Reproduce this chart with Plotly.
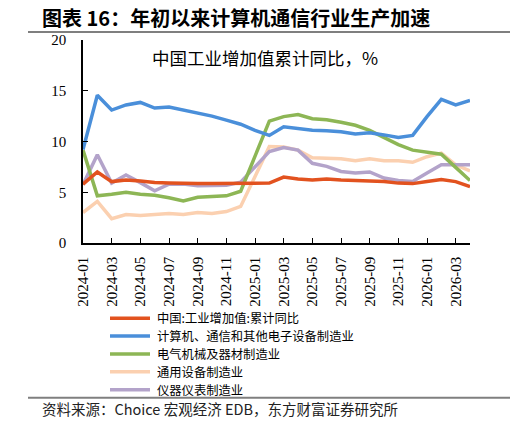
import plotly.graph_objects as go

months = [f"{y}-{m:02d}" for y in (2024, 2025, 2026) for m in range(1, 13)][:28]
tick_labels = months[0:28:2]

names = ["中国:工业增加值:累计同比", "计算机、通信和其他电子设备制造业", "电气机械及器材制造业",
         "通用设备制造业", "仪器仪表制造业"]
colors = ["#E2521F", "#4A8FDA", "#8DB655", "#FBD0B0", "#B3A3CA"]

industry = [5.8, 7.0, 6.05, 6.2, 6.1, 5.95, 5.9, 5.85, 5.85, 5.85, 5.85, 5.9, 5.9, 5.9,
            6.5, 6.3, 6.2, 6.3, 6.2, 6.15, 6.1, 6.05, 5.9, 5.85, 6.05, 6.25, 6.05, 5.55]
computer = [9.2, 14.55, 13.1, 13.6, 13.85, 13.3, 13.4, 13.1, 12.75, 12.5, 12.1, 11.7, 11.1, 10.6,
            11.45, 11.3, 11.1, 11.05, 10.95, 10.75, 10.85, 10.65, 10.4, 10.6, 12.45, 14.15, 13.6, 14.05]
electric = [9.15, 4.65, 4.8, 5.0, 4.8, 4.7, 4.45, 4.15, 4.5, 4.6, 4.65, 5.1, 8.6, 12.0,
            12.45, 12.65, 12.25, 12.15, 11.9, 11.6, 11.1, 10.4, 9.7, 9.15, 8.95, 8.75, 7.45, 6.15]
general = [3.0, 4.1, 2.4, 2.8, 2.7, 2.8, 2.9, 2.8, 3.0, 2.9, 3.1, 3.6, 6.6, 9.5,
           9.45, 9.15, 8.4, 8.35, 8.3, 8.1, 8.3, 8.1, 8.1, 7.95, 8.5, 8.85, 7.7, 7.1]
instrument = [5.75, 8.7, 5.9, 6.7, 5.95, 5.15, 5.8, 5.8, 5.65, 5.65, 5.7, 6.0, 7.5, 9.0,
              9.4, 9.15, 7.85, 7.55, 7.05, 6.9, 7.0, 6.4, 6.15, 6.05, 6.9, 7.7, 7.7, 7.7]

series = [industry, computer, electric, general, instrument]

W, H = 515, 423
L, R, T, B = 83, 470, 39.5, 243.5

def px(x):
    return (x - L) / (R - L)

def py(y):
    return (B - y) / (B - T)

fig = go.Figure()
order = [3, 4, 2, 1, 0]
for k in order:
    fig.add_trace(go.Scatter(x=months, y=series[k], mode="lines", name=names[k],
                             line=dict(color=colors[k], width=3.5), showlegend=False))

serif = "Liberation Serif, Times New Roman, serif"
cjk = "Noto Sans CJK SC, sans-serif"

fig.update_layout(
    width=W, height=H,
    margin=dict(l=L, r=W - R, t=T, b=H - B),
    paper_bgcolor="white", plot_bgcolor="white",
    xaxis=dict(type="category", categoryorder="array", categoryarray=months,
               range=[0, len(months) - 1], tickmode="array", tickvals=tick_labels,
               ticktext=tick_labels, tickangle=-90, ticks="inside", ticklen=5,
               tickcolor="black", tickwidth=1.2, showline=True, linecolor="black",
               linewidth=1.5, showgrid=False, zeroline=False, ticklabelstandoff=6,
               tickfont=dict(family=serif, size=15, color="black")),
    yaxis=dict(range=[0, 20], tickvals=[0, 5, 10, 15, 20], ticks="inside", ticklen=5,
               tickcolor="black", tickwidth=1.2, showline=True, linecolor="black",
               linewidth=1.5, showgrid=False, zeroline=False, ticklabelstandoff=12,
               tickfont=dict(family=serif, size=15, color="black")),
)

LEG_SIZE = 12.3
rows = [319.0 + i * 18.0 for i in range(5)]

annotations = [
    dict(text="<b>图表 16：年初以来计算机通信行业生产加速</b>", x=px(40), y=py(17),
         xref="paper", yref="paper", xanchor="left", yanchor="middle", showarrow=False,
         font=dict(family=cjk, size=20, color="black")),
    dict(text="中国工业增加值累计同比，%", x=px(265), y=py(57), xref="paper", yref="paper",
         xanchor="center", yanchor="middle", showarrow=False,
         font=dict(family=cjk, size=17.5, color="black")),
    dict(text="资料来源：Choice 宏观经济 EDB，东方财富证券研究所", x=px(40), y=py(410),
         xref="paper", yref="paper", xanchor="left", yanchor="middle", showarrow=False,
         font=dict(family=cjk, size=14.5, color="#222222")),
]
shapes = [
    dict(type="line", xref="paper", yref="paper", x0=px(28), x1=px(510), y0=py(31.5), y1=py(31.5),
         line=dict(color="#7f7f7f", width=2)),
    dict(type="line", xref="paper", yref="paper", x0=px(28), x1=px(510), y0=py(399), y1=py(399),
         line=dict(color="#7f7f7f", width=2)),
]
for k in range(5):
    shapes.append(dict(type="line", xref="paper", yref="paper", x0=px(110), x1=px(150),
                       y0=py(rows[k]), y1=py(rows[k]), line=dict(color=colors[k], width=3.5)))
    annotations.append(dict(text=names[k], x=px(156), y=py(rows[k]), xref="paper", yref="paper",
                            xanchor="left", yanchor="middle", showarrow=False, borderpad=0,
                            font=dict(family=cjk, size=LEG_SIZE, color="black")))

fig.update_layout(annotations=annotations, shapes=shapes)
fig.write_html("out.html")
